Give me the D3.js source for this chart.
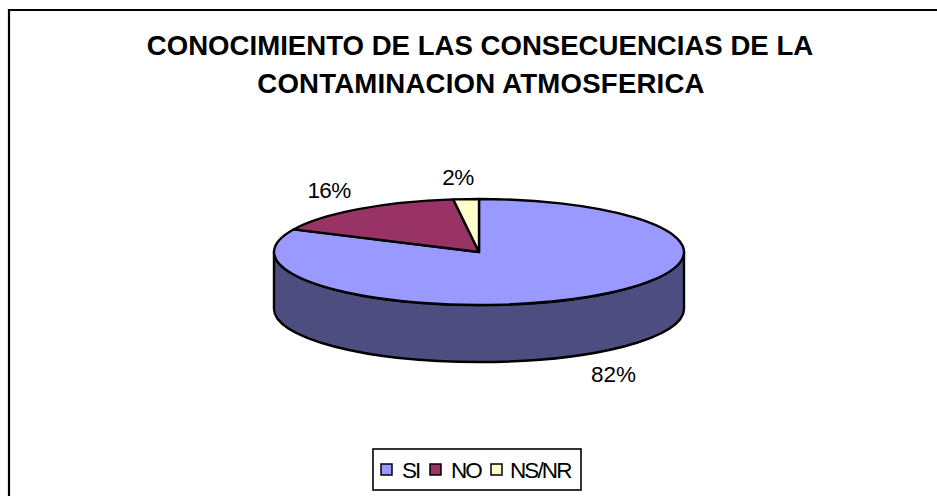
<!DOCTYPE html>
<html><head><meta charset="utf-8">
<script src="https://cdn.jsdelivr.net/npm/d3@7/dist/d3.min.js"></script>
<style>html,body{margin:0;padding:0;background:#fff}svg{display:block}text{font-family:"Liberation Sans",Arial,sans-serif;fill:#000}</style>
</head><body><svg id="c" width="937" height="496"></svg>
<script>
const categories = ["SI","NO","NS/NR"];
const values = [82,16,2];
const labels = ["82%","16%","2%"];
const colors = ["#9999ff","#993366","#ffffcc"];
const titleLines = ["CONOCIMIENTO DE LAS CONSECUENCIAS DE LA","CONTAMINACION ATMOSFERICA"];

const svg = d3.select("#c");
const cx=479, cy=252, rx=205, ry=53, depth=57;
const stroke=2.4;

// frame
svg.append("path").attr("d","M9,496V10H937").attr("fill","none").attr("stroke","#000").attr("stroke-width",2.2);

// title
svg.selectAll("text.t").data(titleLines).join("text").attr("class","t")
 .attr("x",(d,i)=>i?481:480).attr("y",(d,i)=>55+i*38).attr("text-anchor","middle")
 .attr("font-size",27.6).attr("font-weight","bold").attr("letter-spacing",(d,i)=>i?0.2:0).text(d=>d);

// pie
const arcs = d3.pie().value(d=>d).sort(null)(values);

// side wall (front half)
svg.append("path")
 .attr("d",`M${cx-rx},${cy}A${rx},${ry} 0 0 0 ${cx+rx},${cy}V${cy+depth}A${rx},${ry} 0 0 1 ${cx-rx},${cy+depth}Z`)
 .attr("fill","#4d4d80").attr("stroke","#000").attr("stroke-width",stroke).attr("stroke-linejoin","round");

// top face: circular arcs squashed to an ellipse
const arc = d3.arc().innerRadius(0).outerRadius(rx);
svg.append("g").attr("transform",`translate(${cx},${cy}) scale(1,${ry/rx})`)
 .selectAll("path").data(arcs).join("path")
 .attr("d",arc).attr("fill",(d,i)=>colors[i]).attr("stroke","#000").attr("stroke-width",stroke)
 .attr("stroke-linejoin","round").attr("vector-effect","non-scaling-stroke");

// data labels
const labelPos=[[613.5,382],[329,198],[458,185]];
svg.selectAll("text.l").data(labels).join("text").attr("class","l")
 .attr("x",(d,i)=>labelPos[i][0]).attr("y",(d,i)=>labelPos[i][1]).attr("text-anchor","middle")
 .attr("font-size",22.5).attr("letter-spacing",(d,i)=>i?-0.6:0).text(d=>d);

// legend
svg.append("rect").attr("x",373).attr("y",449).attr("width",208).attr("height",41).attr("fill","#fff").attr("stroke","#000").attr("stroke-width",1.6);
const sw=[381,430,491], tx=[402,451,510];
const lg=svg.selectAll("g.k").data(categories).join("g").attr("class","k");
lg.append("rect").attr("x",(d,i)=>sw[i]).attr("y",464).attr("width",11).attr("height",11)
 .attr("fill",(d,i)=>colors[i]).attr("stroke","#000").attr("stroke-width",1.5);
lg.append("text").attr("x",(d,i)=>tx[i]).attr("y",478).attr("font-size",22.5).attr("letter-spacing",-1.9).text(d=>d);
</script></body></html>
